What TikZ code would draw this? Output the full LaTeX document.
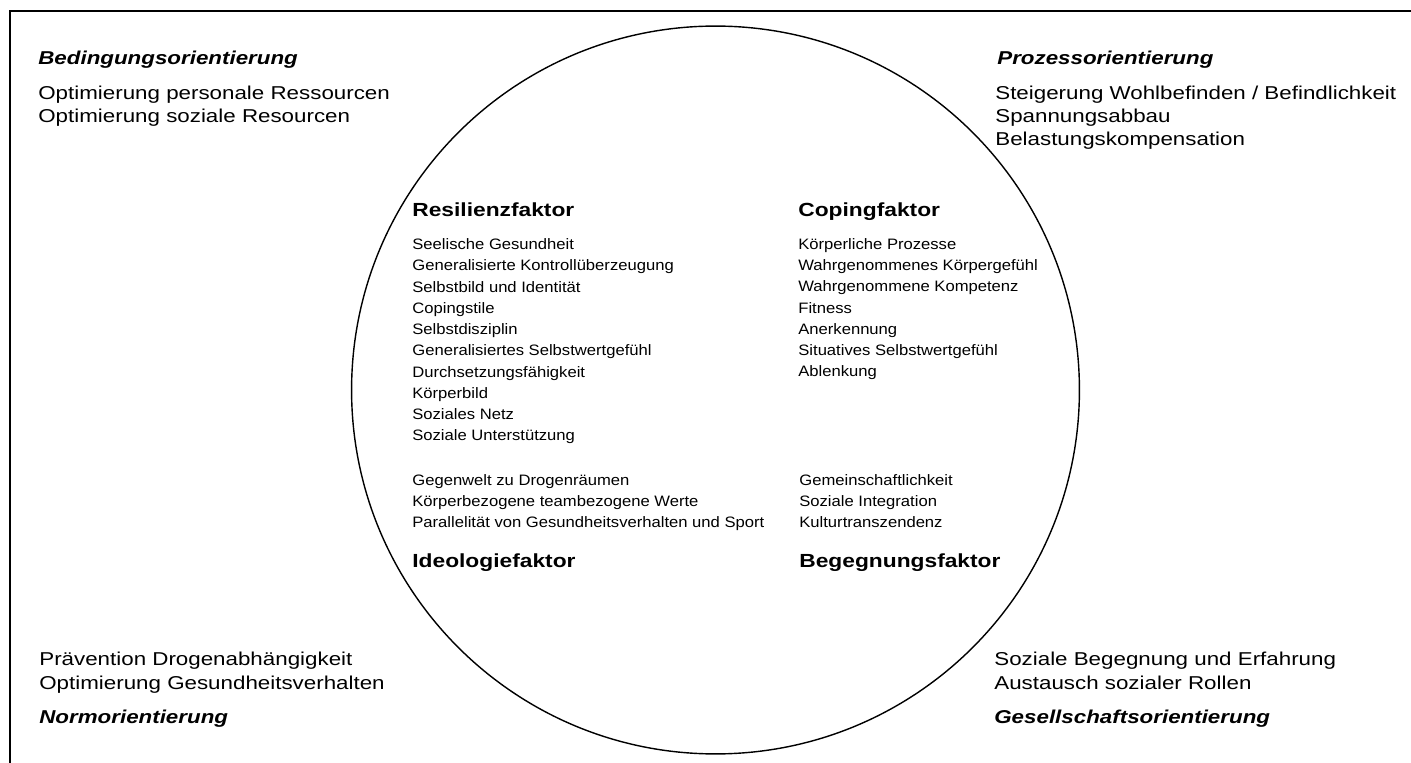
\documentclass[tikz,border=0pt]{standalone}
\usepackage{fontspec}
\setmainfont{Liberation Sans}
\newfontfamily\widefont{Liberation Sans}[FakeStretch=1.2]
\newfontfamily\listfont{Liberation Sans}[FakeStretch=1.1]
\usetikzlibrary{positioning}

\begin{document}
\begin{tikzpicture}[
		x=0.02cm, y=-0.02cm,
		txt/.style={anchor=base west, inner sep=0pt, align=left},
		outer/.style={txt, font=\widefont\fontsize{10.6}{13.2}\selectfont},
		orient/.style={txt, font=\widefont\fontsize{10.6}{13.2}\selectfont\bfseries\itshape},
		factor/.style={txt, font=\widefont\fontsize{10.8}{13}\selectfont\bfseries},
		list/.style={txt, font=\listfont\fontsize{8.6}{12.1}\selectfont}
		]
		
		\useasboundingbox (0,0) rectangle (1411,763);
		\draw[line width=0.6pt] (1411,11) -- (10,11) -- (10,763);
		\node[draw, circle, line width=0.8pt, inner sep=0pt, minimum size=14.56cm] (ring) at (715.5,390) {};
		
		% corners (base = last line)
		\node[orient] (bed) at (38,65) {Bedingungsorientierung};
		\node[outer] (bedl) at (38,123) {Optimierung personale Ressourcen\\Optimierung soziale Resourcen};
		\node[orient] (proz) at (997,65) {Prozessorientierung};
		\node[outer] (prozl) at (995,146) {Steigerung Wohlbefinden / Befindlichkeit\\Spannungsabbau\\Belastungskompensation};
		\node[outer] (norml) at (39,689) {Prävention Drogenabhängigkeit\\Optimierung Gesundheitsverhalten};
		\node[orient] (norm) at (39,724) {Normorientierung};
		\node[outer] (gesl) at (994,689) {Soziale Begegnung und Erfahrung\\Austausch sozialer Rollen};
		\node[orient] (ges) at (994,724) {Gesellschaftsorientierung};
		
		% factors
		\node[factor] (res) at (412,217) {Resilienzfaktor};
		\node[list] (resl) at (412,441) {Seelische Gesundheit\\Generalisierte Kontrollüberzeugung\\Selbstbild und Identität\\Copingstile\\Selbstdisziplin\\Generalisiertes Selbstwertgefühl\\Durchsetzungsfähigkeit\\Körperbild\\Soziales Netz\\Soziale Unterstützung};
		\node[factor] (cop) at (798,217) {Copingfaktor};
		\node[list] (copl) at (798,377) {Körperliche Prozesse\\Wahrgenommenes Körpergefühl\\Wahrgenommene Kompetenz\\Fitness\\Anerkennung\\Situatives Selbstwertgefühl\\Ablenkung};
		\node[list] (ideol) at (412,528) {Gegenwelt zu Drogenräumen\\Körperbezogene teambezogene Werte\\Parallelität von Gesundheitsverhalten und Sport};
		\node[factor] (ideo) at (412,568) {Ideologiefaktor};
		\node[list] (begl) at (799,528) {Gemeinschaftlichkeit\\Soziale Integration\\Kulturtranszendenz};
		\node[factor] (beg) at (799,568) {Begegnungsfaktor};
		
	\end{tikzpicture}
\end{document}
